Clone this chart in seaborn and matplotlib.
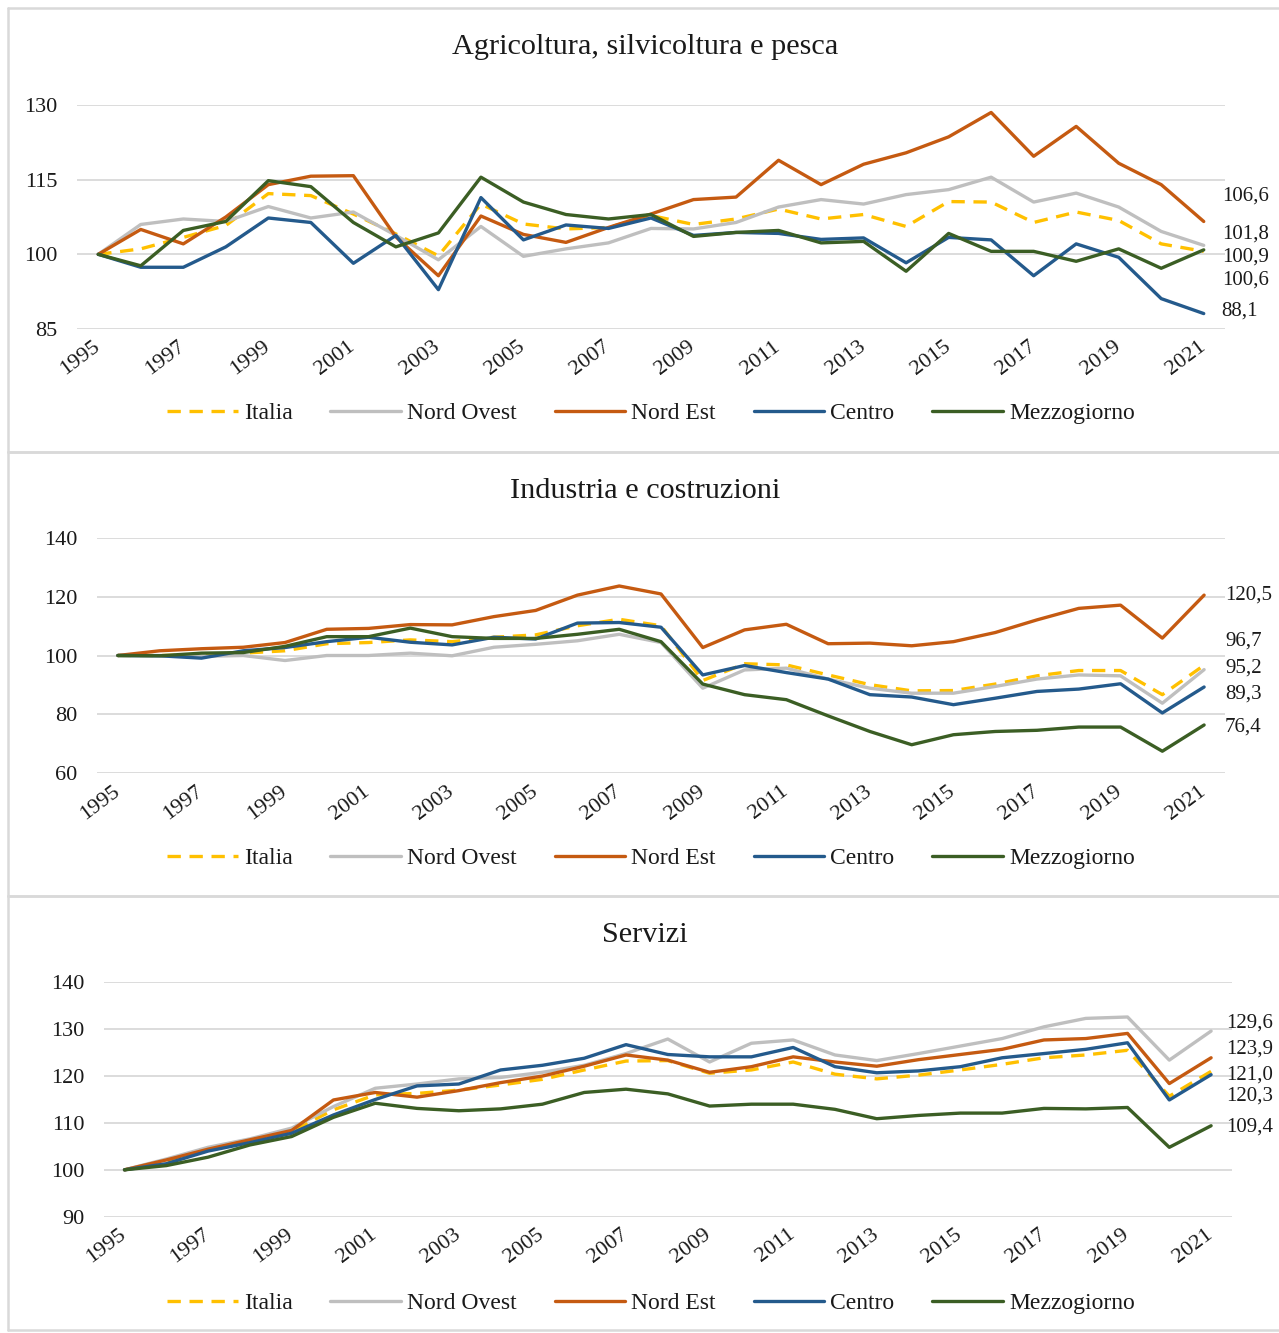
import pandas as pd
import matplotlib.pyplot as plt
import matplotlib.transforms as mtransforms
import seaborn as sns
from matplotlib.lines import Line2D

# --- dati (indici 1995 = 100) ---
anni = list(range(1995, 2022))
aree = ['Italia', 'Nord Ovest', 'Nord Est', 'Centro', 'Mezzogiorno']

titoli = ['Agricoltura, silvicoltura e pesca', 'Industria e costruzioni', 'Servizi']

italia_agr = [100, 101.1, 103.4, 105.8, 112.2, 111.8, 108.1, 104.1, 99.7, 110.1, 106.1, 105.1, 105.4, 107.8,
              106.0, 107.1, 109.1, 107.1, 108.0, 105.6, 110.6, 110.5, 106.4, 108.5, 106.8, 102.1, 100.6]
nordovest_agr = [100, 106.0, 107.1, 106.6, 109.6, 107.3, 108.5, 103.8, 98.9, 105.6, 99.6, 101.1, 102.3, 105.2,
                 105.1, 106.4, 109.5, 111.0, 110.1, 112.0, 113.0, 115.5, 110.5, 112.3, 109.5, 104.6, 101.8]
nordest_agr = [100, 105.0, 102.1, 107.5, 114.0, 115.7, 115.8, 103.5, 95.7, 107.7, 104.0, 102.4, 105.4, 108.1,
               111.0, 111.5, 118.9, 114.0, 118.1, 120.4, 123.6, 128.5, 119.7, 125.7, 118.3, 114.0, 106.6]
centro_agr = [100, 97.4, 97.4, 101.5, 107.3, 106.4, 98.2, 103.8, 92.9, 111.4, 102.9, 105.9, 105.2, 107.3,
              103.8, 104.4, 104.2, 103.0, 103.3, 98.3, 103.4, 102.9, 95.7, 102.1, 99.4, 91.1, 88.1]
mezzo_agr = [100, 97.7, 104.8, 106.6, 114.8, 113.6, 106.4, 101.5, 104.3, 115.5, 110.5, 108.0, 107.1, 108.0,
             103.6, 104.4, 104.8, 102.3, 102.6, 96.6, 104.2, 100.6, 100.6, 98.6, 101.1, 97.2, 100.9]

italia_ind = [100, 100.0, 100.2, 100.8, 101.6, 104.0, 104.4, 105.3, 104.7, 106.2, 107.0, 110.1, 112.3, 110.1,
              91.5, 97.2, 96.8, 93.4, 90.1, 88.0, 88.1, 90.3, 93.1, 94.9, 94.9, 86.7, 96.7]
nordovest_ind = [100, 100.0, 99.7, 100.0, 98.3, 100.0, 100.0, 100.8, 99.9, 102.8, 103.8, 105.0, 107.2, 104.4,
                 88.9, 95.1, 95.7, 92.0, 88.9, 87.2, 87.2, 89.5, 92.0, 93.4, 93.1, 83.8, 95.2]
nordest_ind = [100, 101.6, 102.3, 102.8, 104.4, 108.9, 109.2, 110.5, 110.4, 113.2, 115.3, 120.5, 123.6, 120.9,
               102.7, 108.7, 110.6, 104.0, 104.2, 103.3, 104.7, 107.8, 112.1, 116.0, 117.1, 105.9, 120.5]
centro_ind = [100, 99.9, 99.1, 101.6, 102.7, 104.7, 106.2, 104.5, 103.6, 106.2, 105.6, 111.0, 111.2, 109.6,
              93.4, 96.6, 94.2, 92.0, 86.7, 85.9, 83.3, 85.5, 87.8, 88.6, 90.4, 80.5, 89.3]
mezzo_ind = [100, 99.9, 100.8, 101.0, 103.1, 106.4, 106.4, 109.3, 106.4, 105.8, 105.8, 107.2, 108.9, 104.7,
             90.3, 86.7, 85.0, 79.5, 74.2, 69.7, 73.1, 74.2, 74.6, 75.7, 75.7, 67.5, 76.4]

italia_ser = [100, 101.8, 104.4, 106.4, 108.2, 112.8, 116.0, 116.3, 117.0, 118.1, 119.3, 121.3, 123.2, 123.3,
              120.6, 121.3, 123.0, 120.4, 119.4, 120.2, 121.3, 122.5, 123.9, 124.5, 125.5, 115.7, 121.0]
nordovest_ser = [100, 102.3, 104.8, 106.6, 108.9, 113.5, 117.4, 118.3, 119.4, 119.7, 120.8, 122.3, 124.8, 127.9,
                 123.0, 127.0, 127.7, 124.5, 123.3, 124.8, 126.4, 128.0, 130.5, 132.3, 132.6, 123.4, 129.6]
nordest_ser = [100, 102.1, 104.4, 106.4, 108.4, 114.9, 116.5, 115.5, 116.9, 118.6, 120.0, 122.1, 124.5, 123.4,
               120.8, 122.0, 124.1, 123.0, 122.1, 123.5, 124.6, 125.7, 127.7, 128.0, 129.1, 118.4, 123.9]
centro_ser = [100, 101.3, 104.0, 105.8, 107.8, 111.7, 115.0, 117.9, 118.3, 121.3, 122.3, 123.8, 126.7, 124.6,
              124.1, 124.1, 126.1, 122.0, 120.7, 121.1, 122.0, 123.9, 124.8, 125.7, 127.1, 114.9, 120.3]
mezzo_ser = [100, 100.9, 102.7, 105.3, 107.1, 111.2, 114.2, 113.1, 112.6, 113.0, 114.0, 116.5, 117.2, 116.2,
             113.6, 114.0, 114.0, 112.9, 110.9, 111.6, 112.1, 112.1, 113.1, 113.0, 113.3, 104.8, 109.4]

serie = [
    [italia_agr, nordovest_agr, nordest_agr, centro_agr, mezzo_agr],
    [italia_ind, nordovest_ind, nordest_ind, centro_ind, mezzo_ind],
    [italia_ser, nordovest_ser, nordest_ser, centro_ser, mezzo_ser],
]
yticks = [[85, 100, 115, 130], [60, 80, 100, 120, 140], [90, 100, 110, 120, 130, 140]]

# --- stile ---
colori = {'Italia': '#FFC000', 'Nord Ovest': '#BFBFBF', 'Nord Est': '#C55A11',
          'Centro': '#245A8C', 'Mezzogiorno': '#3B5E24'}
tratti = {'Italia': (4, 2.6), 'Nord Ovest': '', 'Nord Est': '', 'Centro': '', 'Mezzogiorno': ''}

W, H = 1279, 1333
# riquadri assi in pixel: sinistra, destra, alto, basso
assi_px = [(77, 1225, 105, 329), (97, 1225, 537.7, 773.3), (103.6, 1232, 982.3, 1216.7)]
titolo_y = [47, 491, 935]
legenda_y = [413, 858, 1303]
cornici = [(8, 452), (452, 896), (896, 1330)]
# spostamento etichette finali (pixel, verso il basso positivo)
etich_dx = [18, 21, 15]
etich_dy = [[29, -11, -25, -3, 7], [-24, -2, 0, 7, 2], [4, -8, -9, 21, 1]]

sns.set_theme(style="white")
plt.rcParams['font.family'] = ['Liberation Serif', 'DejaVu Serif']
testo = '#1a1a1a'
bordo = '#D9D9D9'

fig = plt.figure(figsize=(W / 100, H / 100), dpi=100)
sposta = mtransforms.ScaledTranslation(-6 / 100, 0, fig.dpi_scale_trans)

for i in range(3):
    l, r, t, b = assi_px[i]
    ax = fig.add_axes([l / W, 1 - b / H, (r - l) / W, (b - t) / H])

    righe = []
    for area, valori in zip(aree, serie[i]):
        for anno, v in zip(anni, valori):
            righe.append({'Anno': anno, 'Valore': v, 'Area': area})
    df = pd.DataFrame(righe)

    sns.lineplot(data=df, x='Anno', y='Valore', hue='Area', style='Area', hue_order=aree,
                 style_order=aree, palette=colori, dashes=tratti, linewidth=2.4, ax=ax)

    ax.set_xlim(1994.5, 2021.5)
    ax.set_ylim(yticks[i][0], yticks[i][-1])
    ax.set_yticks(yticks[i])
    ax.set_xticks(anni[::2])
    ax.set_xlabel('')
    ax.set_ylabel('')
    for s in ax.spines.values():
        s.set_visible(False)
    ax.grid(axis='y', color=bordo, linewidth=1.3)
    ax.grid(axis='x', visible=False)
    ax.tick_params(axis='both', length=0, labelsize=16, colors=testo)
    ax.tick_params(axis='y', pad=14)
    ax.tick_params(axis='x', pad=6)
    for lab in ax.get_xticklabels():
        lab.set_rotation(37)
        lab.set_ha('right')
        lab.set_va('top')
        lab.set_rotation_mode('anchor')
        lab.set_transform(lab.get_transform() + sposta)

    # etichette valori finali
    for j, (area, valori) in enumerate(zip(aree, serie[i])):
        ax.annotate(f"{valori[-1]:.1f}".replace('.', ','), xy=(anni[-1], valori[-1]),
                    xytext=(etich_dx[i], -etich_dy[i][j]), textcoords='offset pixels',
                    ha='left', va='center', fontsize=15, color=testo, annotation_clip=False)

    handles, labels = ax.get_legend_handles_labels()
    ax.legend(handles, labels, loc='center', bbox_to_anchor=(651 / W, 1 - legenda_y[i] / H),
              bbox_transform=fig.transFigure, ncol=5, frameon=False, fontsize=17,
              handlelength=3.0, handletextpad=0.25, columnspacing=1.6, labelcolor=testo)

    fig.text(645 / W, 1 - titolo_y[i] / H, titoli[i], ha='center', va='center',
             fontsize=21.8, color=testo)

    # cornice del pannello (aperta a destra)
    top, bottom = cornici[i]
    for xs, ys in [([8, W], [top, top]), ([8, 8], [top, bottom]), ([8, W], [bottom, bottom])]:
        fig.add_artist(Line2D([x / W for x in xs], [1 - y / H for y in ys],
                              transform=fig.transFigure, color=bordo, lw=1.8))

plt.savefig('out.png', dpi=100)
